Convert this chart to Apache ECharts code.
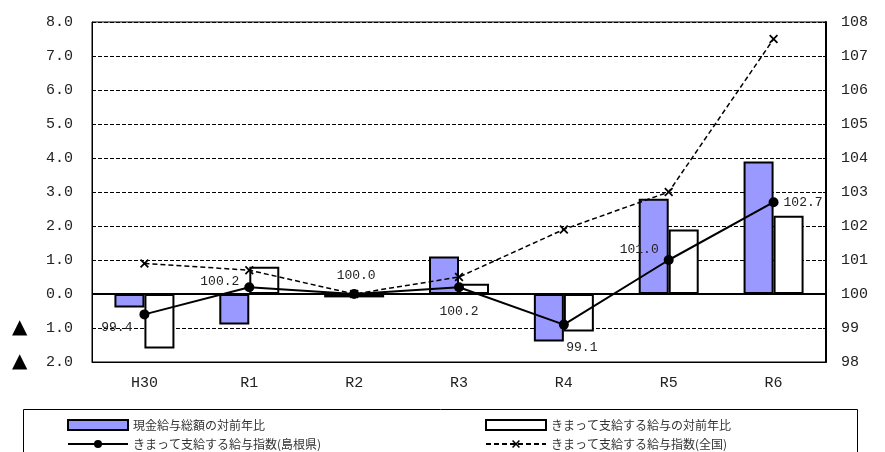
<!DOCTYPE html>
<html>
<head>
<meta charset="utf-8">
<script src="https://cdn.jsdelivr.net/npm/echarts@6/dist/echarts.min.js"></script>
<style>
html,body{margin:0;padding:0;background:#fff;}
#c{width:885px;height:452px;}
</style>
</head>
<body>
<div id="c"></div>
<script>
const categories = ['H30', 'R1', 'R2', 'R3', 'R4', 'R5', 'R6'];
const cashTotalYoY = [-0.4, -0.9, -0.1, 1.1, -1.4, 2.8, 3.9];
const regularYoY = [-1.6, 0.8, -0.1, 0.3, -1.1, 1.9, 2.3];
const shimaneIndex = [99.4, 100.2, 100.0, 100.2, 99.1, 101.0, 102.7];
const nationalIndex = [100.9, 100.7, 100.0, 100.5, 101.9, 103.0, 107.5];
const seriesNames = ['現金給与総額の対前年比', 'きまって支給する給与の対前年比', 'きまって支給する給与指数(島根県)', 'きまって支給する給与指数(全国)'];

const labelPlacement = [
  {position: 'left', offset: [-2, 13]},
  {position: 'left', offset: [0, -6]},
  {position: 'top', offset: [2, -2]},
  {position: 'bottom', offset: [0, 8]},
  {position: 'bottom', offset: [18, 6]},
  {position: 'left', offset: [0, -10]},
  {position: 'right', offset: [0, 0]}
];

const xSymbol = 'path://M0,1.4 L1.4,0 L5,3.6 L8.6,0 L10,1.4 L6.4,5 L10,8.6 L8.6,10 L5,6.4 L1.4,10 L0,8.6 L3.6,5 Z';
const txt = '#222';
const font = '"Liberation Mono", "DejaVu Sans Mono", monospace';
const jfont = '"Noto Sans CJK JP", sans-serif';

const chart = echarts.init(document.getElementById('c'));
const legendBase = {
  itemWidth: 60, itemHeight: 10, itemGap: 8,
  textStyle: {fontFamily: jfont, fontSize: 12, color: '#333'},
  selectedMode: false
};
chart.setOption({
  animation: false,
  backgroundColor: '#fff',
  grid: {left: 92, right: 59, top: 22, bottom: 90, show: true, borderColor: '#000', borderWidth: 1, backgroundColor: 'transparent'},
  graphic: [{
    type: 'rect', shape: {x: 23.5, y: 409.5, width: 834, height: 60},
    style: {fill: 'none', stroke: '#000', lineWidth: 1}, silent: true
  }],
  legend: [
    Object.assign({data: [{name: seriesNames[0], icon: 'rect'}], left: 62, top: 414}, legendBase),
    Object.assign({data: [{name: seriesNames[1], icon: 'rect'}], left: 480, top: 414}, legendBase),
    Object.assign({data: [seriesNames[2]], left: 62, top: 433}, legendBase),
    Object.assign({data: [seriesNames[3]], left: 480, top: 433}, legendBase)
  ],
  xAxis: {
    type: 'category', data: categories,
    axisLine: {show: true, onZero: false, lineStyle: {color: '#000', width: 1}},
    axisTick: {show: false},
    axisLabel: {color: txt, fontFamily: font, fontSize: 15, margin: 14}
  },
  yAxis: [{
    type: 'value', min: -2, max: 8, interval: 1, position: 'left',
    axisLine: {show: true, lineStyle: {color: '#000', width: 1}},
    axisTick: {show: false},
    splitLine: {show: true, lineStyle: {color: '#000', type: 'dashed', width: 1}},
    axisLabel: {
      color: txt, fontFamily: font, fontSize: 15, margin: 19,
      formatter: v => v < 0 ? '{t|▲}' + Math.abs(v).toFixed(1) : v.toFixed(1),
      rich: {t: {width: 34, align: 'left', fontSize: 20, lineHeight: 18, color: '#000', fontFamily: '"DejaVu Sans", sans-serif'}}
    }
  }, {
    type: 'value', min: 98, max: 108, interval: 1, position: 'right',
    axisLine: {show: true, lineStyle: {color: '#000', width: 2}},
    axisTick: {show: true, inside: true, length: 3, lineStyle: {color: '#000'}},
    splitLine: {show: false},
    axisLabel: {color: txt, fontFamily: font, fontSize: 15, margin: 15}
  }],
  series: [{
    name: seriesNames[0], type: 'bar', yAxisIndex: 0, data: cashTotalYoY,
    barWidth: 30, barGap: '0%',
    itemStyle: {color: '#9999FF', borderColor: '#000', borderWidth: 2},
    markLine: {
      silent: true, symbol: 'none', label: {show: false},
      lineStyle: {color: '#000', width: 2, type: 'solid'},
      data: [{yAxis: 0}]
    }
  }, {
    name: seriesNames[1], type: 'bar', yAxisIndex: 0, data: regularYoY,
    barWidth: 30, barGap: '0%',
    itemStyle: {color: '#fff', borderColor: '#000', borderWidth: 2}
  }, {
    name: seriesNames[2], type: 'line', yAxisIndex: 1,
    data: shimaneIndex.map((v, i) => ({
      value: v,
      label: {show: true, position: labelPlacement[i].position, offset: labelPlacement[i].offset}
    })),
    symbol: 'circle', symbolSize: 10,
    itemStyle: {color: '#000'},
    lineStyle: {color: '#000', width: 2},
    label: {color: txt, fontFamily: font, fontSize: 13, formatter: p => p.value.toFixed(1)},
    z: 4
  }, {
    name: seriesNames[3], type: 'line', yAxisIndex: 1, data: nationalIndex,
    symbol: xSymbol, symbolSize: 9,
    itemStyle: {color: '#000'},
    lineStyle: {color: '#000', width: 1.5, type: [5, 3]},
    z: 3
  }]
});
</script>
</body>
</html>
